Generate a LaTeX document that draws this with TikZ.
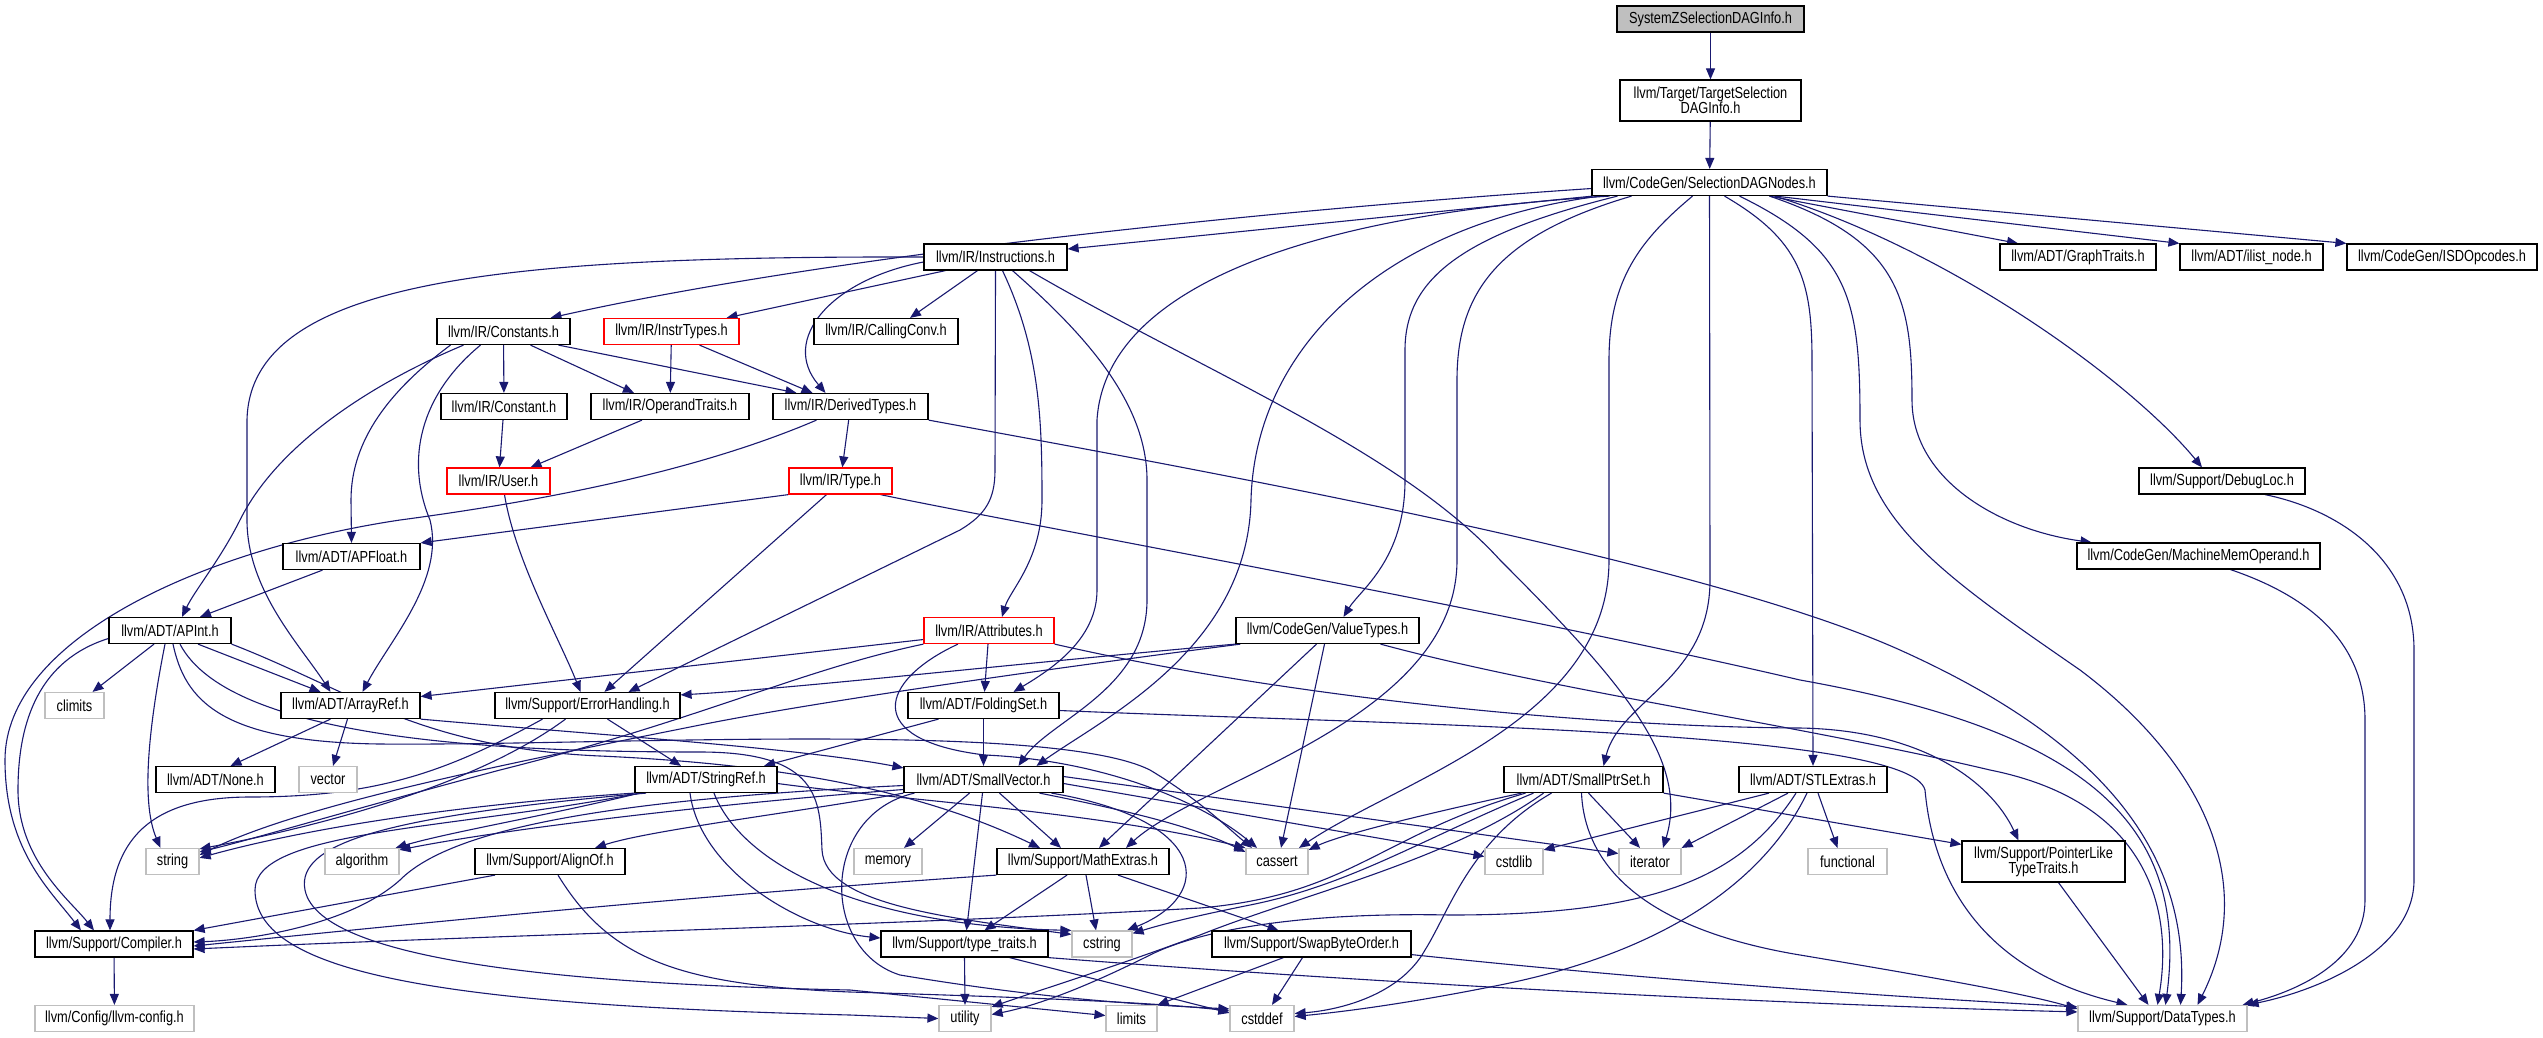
\documentclass[tikz,border=0pt]{standalone}
\usepackage{fontspec}
\setmainfont{Liberation Sans}[FakeStretch=0.8]
\usetikzlibrary{arrows.meta}
\definecolor{edgec}{HTML}{191970}
\definecolor{grayb}{HTML}{BFBFBF}
\pgfdeclarelayer{bg}
\pgfsetlayers{bg,main}
\begin{document}
\begin{tikzpicture}[x=1pt,y=-1pt,
  nb/.style={draw=black, fill=white, line width=1.2pt, minimum height=26pt, inner sep=0pt, font=\fontsize{16pt}{15pt}\selectfont, align=center},
  rb/.style={nb, draw=red},
  gb/.style={nb, draw=grayb},
  tb/.style={nb, fill=grayb},
  dep/.style={draw=edgec, line width=1.1pt, -{Triangle[length=11pt,width=9pt]}}]
\useasboundingbox (0,0) rectangle (2543,1037);
% nodes
\node[tb, minimum width=187pt] (sz) at (1710.5,19) {SystemZSelectionDAGInfo.h};
\node[nb, minimum width=181pt, minimum height=41pt] (tsd) at (1710.5,100.5) {llvm/Target/TargetSelection\\DAGInfo.h};
\node[nb, minimum width=235pt] (sdn) at (1709.5,182.5) {llvm/CodeGen/SelectionDAGNodes.h};
\node[nb, minimum width=143pt] (ins) at (995.5,257) {llvm/IR/Instructions.h};
\node[nb, minimum width=156pt] (gt) at (2078,257) {llvm/ADT/GraphTraits.h};
\node[nb, minimum width=143pt] (iln) at (2251.5,257) {llvm/ADT/ilist\_node.h};
\node[nb, minimum width=190pt] (isd) at (2442,257) {llvm/CodeGen/ISDOpcodes.h};
\node[nb, minimum width=133pt] (cons) at (503.5,331.5) {llvm/IR/Constants.h};
\node[rb, minimum width=135pt] (itt) at (671.5,331.5) {llvm/IR/InstrTypes.h};
\node[nb, minimum width=144pt] (cc) at (886,331.5) {llvm/IR/CallingConv.h};
\node[nb, minimum width=126pt] (con) at (504,406.5) {llvm/IR/Constant.h};
\node[nb, minimum width=158pt] (opt) at (670,406.5) {llvm/IR/OperandTraits.h};
\node[nb, minimum width=155pt] (dt) at (850.5,406.5) {llvm/IR/DerivedTypes.h};
\node[rb, minimum width=103pt] (user) at (498.5,481) {llvm/IR/User.h};
\node[rb, minimum width=103pt] (type) at (840.5,481) {llvm/IR/Type.h};
\node[nb, minimum width=166pt] (dbg) at (2222,481) {llvm/Support/DebugLoc.h};
\node[nb, minimum width=137pt] (apf) at (351.5,556.5) {llvm/ADT/APFloat.h};
\node[nb, minimum width=243pt] (mmo) at (2198.5,556) {llvm/CodeGen/MachineMemOperand.h};
\node[nb, minimum width=122pt] (api) at (170,630.5) {llvm/ADT/APInt.h};
\node[rb, minimum width=130pt] (attr) at (989,630.5) {llvm/IR/Attributes.h};
\node[nb, minimum width=183pt] (vt) at (1327.5,630.5) {llvm/CodeGen/ValueTypes.h};
\node[gb, minimum width=59pt] (clim) at (74.5,705.5) {climits};
\node[nb, minimum width=139pt] (ar) at (350.5,705.5) {llvm/ADT/ArrayRef.h};
\node[nb, minimum width=185pt] (eh) at (587.5,705.5) {llvm/Support/ErrorHandling.h};
\node[nb, minimum width=151pt] (fs) at (983.5,705.5) {llvm/ADT/FoldingSet.h};
\node[nb, minimum width=119pt] (none) at (215.5,779.5) {llvm/ADT/None.h};
\node[gb, minimum width=58pt] (vec) at (328,779.5) {vector};
\node[nb, minimum width=142pt] (sr) at (706,779.5) {llvm/ADT/StringRef.h};
\node[nb, minimum width=159pt] (sv) at (983.5,779.5) {llvm/ADT/SmallVector.h};
\node[nb, minimum width=159pt] (sps) at (1583.5,779.5) {llvm/ADT/SmallPtrSet.h};
\node[nb, minimum width=148pt] (stl) at (1813,779.5) {llvm/ADT/STLExtras.h};
\node[gb, minimum width=53pt] (str) at (172.5,861.5) {string};
\node[gb, minimum width=74pt] (alg) at (362,861.5) {algorithm};
\node[nb, minimum width=150pt] (ao) at (550,861.5) {llvm/Support/AlignOf.h};
\node[gb, minimum width=68pt] (mem) at (888,861.5) {memory};
\node[nb, minimum width=172pt] (me) at (1083,861.5) {llvm/Support/MathExtras.h};
\node[gb, minimum width=62pt] (cas) at (1277,861.5) {cassert};
\node[gb, minimum width=58pt] (csl) at (1514,861.5) {cstdlib};
\node[gb, minimum width=62pt] (iter) at (1650,861.5) {iterator};
\node[gb, minimum width=79pt] (fun) at (1847.5,861.5) {functional};
\node[nb, minimum width=163pt, minimum height=41pt] (plt) at (2043.5,861.5) {llvm/Support/PointerLike\\TypeTraits.h};
\node[nb, minimum width=158pt] (comp) at (114,944) {llvm/Support/Compiler.h};
\node[nb, minimum width=167pt] (tt) at (964.5,944) {llvm/Support/type\_traits.h};
\node[gb, minimum width=60pt] (cstr) at (1102,944) {cstring};
\node[nb, minimum width=199pt] (sbo) at (1311.5,944) {llvm/Support/SwapByteOrder.h};
\node[gb, minimum width=159pt] (cfg) at (114.5,1018.5) {llvm/Config/llvm-config.h};
\node[gb, minimum width=52pt] (util) at (965,1018.5) {utility};
\node[gb, minimum width=51pt] (lim) at (1131.5,1018.5) {limits};
\node[gb, minimum width=64pt] (cdef) at (1262,1018.5) {cstddef};
\node[gb, minimum width=169pt] (dty) at (2162.5,1018.5) {llvm/Support/DataTypes.h};
\begin{pgfonlayer}{bg}
\fill[white] (0,0) rectangle (2543,1037);
% top chain
\draw[dep] (sz) -- (tsd);
\draw[dep] (tsd) -- (sdn);
% SelectionDAGNodes
\draw[dep] ([xshift=-117pt]sdn.south) -- ([yshift=8pt]ins.east);
\draw[dep] ([yshift=-6pt]sdn.west) .. controls (1200,215) and (800,262) .. ([xshift=47pt]cons.north);
\draw[dep] ([xshift=-100pt]sdn.south) .. controls (1300,215) and (1105,290) .. (1097,420) -- (1097,590) .. controls (1097,640) and (1050,670) .. ([xshift=30pt]fs.north);
\draw[dep] ([xshift=-110pt]sdn.south) .. controls (1380,225) and (1255,350) .. (1251,500) .. controls (1248,650) and (1100,720) .. ([xshift=53pt]sv.north);
\draw[dep] ([xshift=-92pt]sdn.south) .. controls (1460,235) and (1405,280) .. (1405,350) -- (1405,480) .. controls (1405,560) and (1360,590) .. ([xshift=16pt]vt.north);
\draw[dep] ([xshift=-78pt]sdn.south) .. controls (1500,235) and (1457,290) .. (1457,380) -- (1457,560) .. controls (1457,720) and (1200,780) .. ([xshift=43pt]me.north);
\draw[dep] ([xshift=-17pt]sdn.south) .. controls (1640,240) and (1609,280) .. (1609,360) -- (1609,560) .. controls (1609,720) and (1400,780) .. ([xshift=22pt]cas.north);
\draw[dep] (sdn.south) -- (1710,580) .. controls (1710,680) and (1620,700) .. ([xshift=20pt]sps.north);
\draw[dep] ([xshift=15pt]sdn.south) .. controls (1800,240) and (1812,280) .. (1812,360) -- (stl.north);
\draw[dep] ([xshift=30pt]sdn.south) .. controls (1850,250) and (1860,300) .. (1860,420) .. controls (1860,520) and (1950,580) .. (2080,670) .. controls (2200,760) and (2260,880) .. ([xshift=35pt]dty.north);
\draw[dep] ([xshift=60pt]sdn.south) .. controls (1900,240) and (1912,300) .. (1912,400) .. controls (1912,480) and (2000,530) .. ([xshift=-107pt]mmo.north);
\draw[dep] ([xshift=65pt]sdn.south) .. controls (1950,250) and (2130,380) .. ([xshift=-20pt]dbg.north);
\draw[dep] ([xshift=60pt]sdn.south) -- ([xshift=-60pt]gt.north);
\draw[dep] ([xshift=66pt]sdn.south) -- (iln.north west);
\draw[dep] (sdn.south east) -- (isd.north west);
% Instructions
\draw[dep] (ins.west) .. controls (500,256) and (250,280) .. (247,420) -- (247,520) .. controls (247,590) and (300,645) .. ([xshift=-20pt]ar.north);
\draw[dep] ([xshift=17pt]ins.south) .. controls (1080,330) and (1147,400) .. (1147,480) -- (1147,600) .. controls (1147,690) and (1050,720) .. ([xshift=35pt]sv.north);
\draw[dep] ([xshift=7pt]ins.south) .. controls (1040,350) and (1042,420) .. (1042,500) .. controls (1042,560) and (1010,590) .. ([xshift=13pt]attr.north);
\draw[dep] (ins.south) -- (995,470) .. controls (995,500) and (985,515) .. (960,530) -- ([xshift=41pt]eh.north);
\draw[dep] ([xshift=34pt]ins.south) .. controls (1200,370) and (1400,450) .. (1500,560) .. controls (1620,680) and (1690,760) .. ([xshift=13pt]iter.north);
\draw[dep] ([xshift=-18pt]ins.south) -- ([xshift=24pt]cc.north);
\draw[dep] ([yshift=-5pt]ins.west) .. controls (830,280) and (780,340) .. ([xshift=-25pt]dt.north);
\draw[dep] ([xshift=-50pt]ins.south) -- ([xshift=55pt]itt.north);
% Constants
\draw[dep] ([xshift=-40pt]cons.south) .. controls (380,380) and (280,440) .. (240,520) .. controls (220,560) and (195,590) .. ([xshift=12pt]api.north);
\draw[dep] ([xshift=-53pt]cons.south) .. controls (390,390) and (351,440) .. (351,500) -- (apf.north);
\draw[dep] ([xshift=-23pt]cons.south) .. controls (420,395) and (405,460) .. (430,520) .. controls (445,580) and (390,640) .. ([xshift=12pt]ar.north);
\draw[dep] (cons) -- (con);
\draw[dep] ([xshift=27pt]cons.south) -- ([xshift=-36pt]opt.north);
\draw[dep] ([xshift=55pt]cons.south) -- ([xshift=-54pt]dt.north);
\draw[dep] (itt) -- (opt);
\draw[dep] ([xshift=28pt]itt.south) -- ([xshift=-38pt]dt.north);
\draw[dep] (con) -- (user);
\draw[dep] ([xshift=-28pt]opt.south) -- ([xshift=32pt]user.north);
% DerivedTypes, User, Type
\draw[dep] (dt) -- (type);
\draw[dep] ([xshift=-34pt]dt.south) .. controls (700,470) and (550,500) .. (400,520) .. controls (200,550) and (5,640) .. (5,760) .. controls (5,850) and (50,890) .. ([xshift=-33pt]comp.north);
\draw[dep] (dt.south east) .. controls (1200,470) and (1700,560) .. (1900,650) .. controls (2100,740) and (2190,850) .. ([xshift=18pt]dty.north);
\draw[dep] ([xshift=6pt]user.south) .. controls (515,560) and (560,640) .. ([xshift=-7pt]eh.north);
\draw[dep] (type.south west) -- (apf.north east);
\draw[dep] ([xshift=-14pt]type.south) -- ([xshift=17pt]eh.north);
\draw[dep] ([xshift=40pt]type.south) .. controls (1000,520) and (1500,610) .. (1800,680) .. controls (2080,730) and (2190,820) .. ([xshift=3pt]dty.north);
% APFloat, APInt
\draw[dep] ([xshift=-29pt]apf.south) -- ([xshift=30pt]api.north);
\draw[dep] ([xshift=-16pt]api.south) -- ([xshift=18pt]clim.north);
\draw[dep] ([xshift=28pt]api.south) -- ([xshift=-30pt]ar.north);
\draw[dep] ([xshift=-5pt]api.south) .. controls (150,720) and (140,800) .. ([xshift=-12pt]str.north);
\draw[dep] ([yshift=-8pt]api.west) .. controls (40,660) and (18,720) .. (18,790) .. controls (18,860) and (70,900) .. ([xshift=-20pt]comp.north);
\draw[dep] ([xshift=3pt]api.south) .. controls (185,700) and (220,742) .. (380,744) .. controls (600,746) and (1050,720) .. (1150,770) .. controls (1200,800) and (1230,830) .. ([xshift=-25pt]cas.north);
\draw[dep] ([xshift=10pt]api.south) .. controls (230,740) and (500,752) .. (700,752) .. controls (820,752) and (820,800) .. (822,850) .. controls (825,905) and (950,918) .. ([yshift=-4pt]cstr.north west);
\draw[dep] (api.south east) .. controls (350,690) and (420,748) .. (600,756) .. controls (780,764) and (920,790) .. ([xshift=-43pt]me.north);
% ArrayRef, ErrorHandling
\draw[dep] ([xshift=-20pt]ar.south) -- ([xshift=15pt]none.north);
\draw[dep] ([xshift=-3pt]ar.south) -- ([xshift=5pt]vec.north);
\draw[dep] (ar.south east) .. controls (600,735) and (800,748) .. ([yshift=-2pt]sv.north west);
\draw[dep] ([xshift=20pt]eh.south) -- ([xshift=-25pt]sr.north);
\draw[dep] ([xshift=-45pt]eh.south) .. controls (450,770) and (380,797) .. (250,797) .. controls (150,797) and (110,840) .. ([xshift=-4pt]comp.north);
\draw[dep] ([xshift=-22pt]eh.south) .. controls (470,790) and (300,830) .. ([yshift=-1pt]str.north east);
% Attributes
\draw[dep] ([yshift=-9pt]attr.west) -- ([yshift=9pt]ar.east);
\draw[dep] (attr.south west) .. controls (800,670) and (700,720) .. (500,770) .. controls (350,810) and (250,840) .. ([yshift=-4pt]str.north east);
\draw[dep] ([xshift=-1pt]attr.south) -- ([xshift=1pt]fs.north);
\draw[dep] ([xshift=-31pt]attr.south) .. controls (880,680) and (860,740) .. (985,755) .. controls (1100,760) and (1200,800) .. ([xshift=-20pt]cas.north);
\draw[dep] (attr.south east) .. controls (1300,700) and (1600,727) .. (1800,728) .. controls (1920,730) and (1990,780) .. ([xshift=-25pt]plt.north);
% ValueTypes
\draw[dep] (vt.south west) .. controls (1000,665) and (800,688) .. ([yshift=-3pt]eh.north east);
\draw[dep] ([xshift=5pt]vt.south west) .. controls (1000,675) and (800,705) .. (700,725) .. controls (500,765) and (300,805) .. ([yshift=-7pt]str.north east);
\draw[dep] ([xshift=-11pt]vt.south) -- ([xshift=16pt]me.north);
\draw[dep] ([xshift=-3pt]vt.south) -- ([xshift=4pt]cas.north);
\draw[dep] ([xshift=53pt]vt.south) .. controls (1550,690) and (1800,725) .. (1990,770) .. controls (2140,800) and (2175,900) .. ([xshift=-5pt]dty.north);
% FoldingSet
\draw[dep] (fs) -- (sv);
\draw[dep] ([xshift=-45pt]fs.south) -- ([xshift=58pt]sr.north);
\draw[dep] ([yshift=-5pt]fs.east) .. controls (1400,725) and (1910,730) .. (1925,790) .. controls (1935,900) and (2000,975) .. ([xshift=-35pt]dty.north);
% StringRef
\draw[dep] (sr.south west) .. controls (450,805) and (300,830) .. ([yshift=-10pt]str.north east);
\draw[dep] ([xshift=5pt]sr.south west) .. controls (550,815) and (450,832) .. ([xshift=-4pt]alg.north east);
\draw[dep] ([yshift=-4pt]sr.east) .. controls (900,800) and (1100,812) .. (cas.north west);
\draw[dep] ([xshift=8pt]sr.south) .. controls (740,860) and (850,925) .. (cstr.north west);
\draw[dep] ([xshift=-16pt]sr.south) .. controls (700,870) and (800,930) .. ([yshift=6pt]tt.west);
\draw[dep] ([xshift=-60pt]sr.south) .. controls (400,815) and (295,840) .. (305,890) .. controls (320,965) and (600,985) .. (850,990) -- ([yshift=3pt]lim.west);
\draw[dep] ([xshift=-66pt]sr.south) .. controls (450,830) and (255,830) .. (255,890) .. controls (255,975) and (450,1005) .. (850,1015) -- (util.west);
% SmallVector
\draw[dep] ([yshift=-6pt]sv.west) .. controls (600,800) and (450,830) .. (400,880) .. controls (350,925) and (250,940) .. ([yshift=2pt]comp.east);
\draw[dep] (sv.south west) .. controls (800,812) and (650,830) .. ([xshift=45pt]ao.north);
\draw[dep] ([yshift=-10pt]sv.west) .. controls (700,805) and (500,830) .. ([yshift=-2pt]alg.north east);
\draw[dep] ([xshift=-14pt]sv.south) -- ([xshift=16pt]mem.north);
\draw[dep] ([xshift=16pt]sv.south) -- ([xshift=-22pt]me.north);
\draw[dep] ([xshift=-1pt]sv.south) -- ([xshift=2pt]tt.north);
\draw[dep] ([xshift=56pt]sv.south) .. controls (1150,815) and (1200,830) .. ([yshift=-4pt]cas.north west);
\draw[dep] ([xshift=68pt]sv.south) .. controls (1210,820) and (1215,895) .. ([xshift=25pt]cstr.north);
\draw[dep] ([yshift=-4pt]sv.east) -- ([yshift=5pt]csl.west);
\draw[dep] ([yshift=3pt]sv.east) -- ([yshift=8pt]iter.west);
\draw[dep] ([xshift=11pt]sv.south west) .. controls (820,815) and (820,950) .. (900,975) .. controls (1050,1000) and (1150,1005) .. ([yshift=-4pt]cdef.north west);
% MathExtras, SwapByteOrder, type_traits, AlignOf
\draw[dep] (me.south west) .. controls (700,895) and (400,925) .. ([yshift=-2pt]comp.east);
\draw[dep] ([xshift=-16pt]me.south) -- ([xshift=20pt]tt.north);
\draw[dep] ([xshift=3pt]me.south) -- ([xshift=-6pt]cstr.north);
\draw[dep] ([xshift=35pt]me.south) -- ([xshift=-33pt]sbo.north);
\draw[dep] ([xshift=-28pt]sbo.south) -- (lim.north east);
\draw[dep] ([xshift=-9pt]sbo.south) -- ([xshift=10pt]cdef.north);
\draw[dep] ([yshift=3pt]sbo.south east) .. controls (1700,985) and (1950,1000) .. ([yshift=-2pt]dty.north west);
\draw[dep] (tt.south) -- (util.north);
\draw[dep] ([xshift=45pt]tt.south) -- ([yshift=-8pt]cdef.north west);
\draw[dep] (tt.south east) .. controls (1400,985) and (1800,1005) .. ([yshift=-7pt]dty.north west);
\draw[dep] ([xshift=-55pt]ao.south) -- (comp.north east);
\draw[dep] ([xshift=8pt]ao.south) .. controls (610,960) and (680,985) .. (850,992) .. controls (1050,998) and (1160,1003) .. ([yshift=-6pt]cdef.north west);
% SmallPtrSet
\draw[dep] ([xshift=-62pt]sps.south) .. controls (1420,815) and (1340,835) .. ([yshift=-2pt]cas.north east);
\draw[dep] ([xshift=-50pt]sps.south) .. controls (1420,840) and (1350,885) .. (1250,905) .. controls (1190,917) and (1160,925) .. ([yshift=-3pt]cstr.north east);
\draw[dep] ([xshift=-58pt]sps.south) .. controls (1380,835) and (1350,895) .. (1200,908) .. controls (900,925) and (500,935) .. ([yshift=-5pt]comp.east);
\draw[dep] ([xshift=-40pt]sps.south) .. controls (1450,860) and (1300,895) .. (1200,935) .. controls (1120,965) and (1040,990) .. ([yshift=-2pt]util.north east);
\draw[dep] ([xshift=-32pt]sps.south) .. controls (1470,840) and (1450,910) .. (1425,950) .. controls (1400,995) and (1340,1010) .. ([yshift=5pt]cdef.east);
\draw[dep] ([xshift=5pt]sps.south) -- ([xshift=-10pt]iter.north);
\draw[dep] (sps.south east) -- ([yshift=-4pt]plt.north west);
\draw[dep] ([xshift=-2pt]sps.south) .. controls (1585,870) and (1650,930) .. (1800,955) .. controls (1950,980) and (2030,995) .. ([yshift=-4pt]dty.north west);
% STLExtras
\draw[dep] ([xshift=-44pt]stl.south) -- ([yshift=-2pt]csl.north east);
\draw[dep] ([xshift=-25pt]stl.south) -- (iter.north east);
\draw[dep] ([xshift=-17pt]stl.south) .. controls (1740,880) and (1650,915) .. (1450,915) .. controls (1300,912) and (1200,930) .. (1150,955) .. controls (1090,985) and (1040,1005) .. ([yshift=4pt]util.east);
\draw[dep] ([xshift=-6pt]stl.south) .. controls (1760,890) and (1650,955) .. (1500,985) .. controls (1400,1005) and (1340,1012) .. ([yshift=2pt]cdef.east);
\draw[dep] ([xshift=5pt]stl.south) -- ([xshift=-10pt]fun.north);
% to DataTypes
\draw[dep] ([xshift=15pt]plt.south) -- ([xshift=-14pt]dty.north);
\draw[dep] ([xshift=43pt]dbg.south) .. controls (2340,510) and (2414,560) .. (2414,650) -- (2414,880) .. controls (2414,950) and (2320,990) .. (dty.north east);
\draw[dep] ([xshift=32pt]mmo.south) .. controls (2320,600) and (2365,650) .. (2365,720) -- (2365,900) .. controls (2365,960) and (2300,990) .. ([xshift=-5pt]dty.north east);
\draw[dep] (comp) -- (cfg);
\end{pgfonlayer}
\end{tikzpicture}
\end{document}
